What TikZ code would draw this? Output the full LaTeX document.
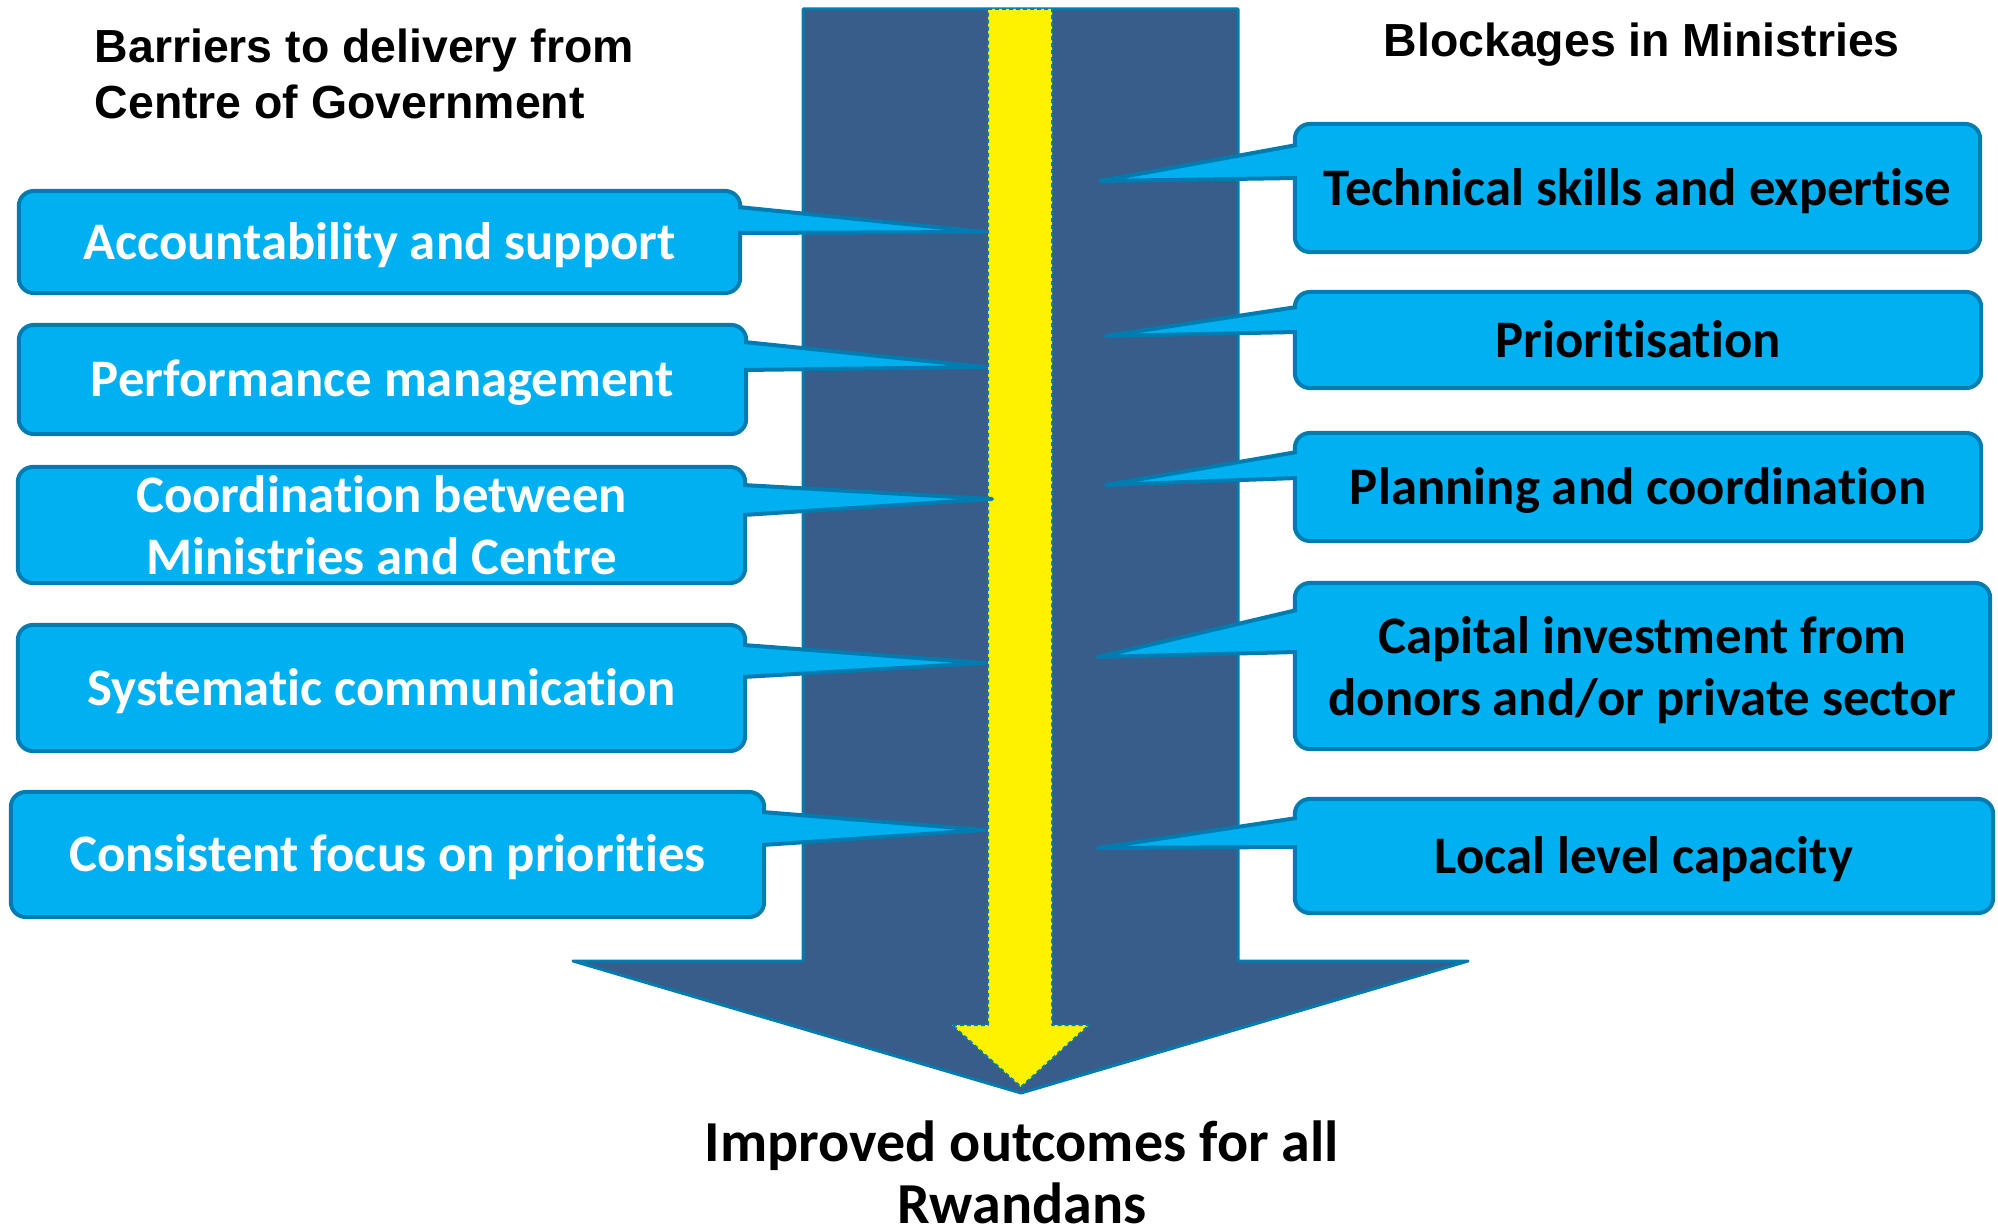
\documentclass[tikz,border=0pt]{standalone}
\usepackage{fontspec}
\setmainfont{Carlito}[Ligatures=CommonOff]
\newfontfamily\headfont{Liberation Sans}
\usepackage{tikz}
\usetikzlibrary{calc}
\definecolor{slate}{RGB}{56,93,138}
\definecolor{edge}{RGB}{0,124,176}
\definecolor{callcyan}{RGB}{0,176,240}

\begin{document}
\begin{tikzpicture}[x=0.01cm,y=-0.01cm,
  box/.style={rectangle,rounded corners=0.15cm,fill=callcyan,draw=edge,line width=0.04cm,inner sep=0pt,align=center,font=\fontsize{15}{17.8}\selectfont\bfseries},
  oneline/.style={text height=9.7pt,text depth=0pt},
  lbox/.style={box,text=white},
  rbox/.style={box,text=black},
  tail/.style={fill=callcyan,draw=edge,line width=0.04cm,line join=round},
  heading/.style={inner sep=0pt,align=left,font=\headfont\fontsize{13.2}{15.9}\selectfont\bfseries}]
\useasboundingbox (0,0) rectangle (1998,1231);

\draw[fill=slate,draw=edge,line width=0.03cm,line join=round] (803,9) -- (1238,9) -- (1238,961) -- (1468,961) -- (1021,1093) -- (573,961) -- (803,961) -- cycle;
\draw[fill=yellow,draw=edge,line width=0.02cm,line join=round,dash pattern=on 0.04cm off 0.03cm] (988,9) -- (1052,9) -- (1052,1025) -- (1089,1025) -- (1021,1087) -- (952,1025) -- (988,1025) -- cycle;

\node[heading,anchor=north west] (barriers) at (94,28) {Barriers to delivery from\\Centre of Government};
\node[heading,anchor=north west] (blockages) at (1383,22) {Blockages in Ministries};

\node[lbox,oneline,minimum width=7.21cm,minimum height=1.02cm] (a1) at (379.5,242) {Accountability and support};
\node[lbox,oneline,minimum width=7.27cm,minimum height=1.09cm] (a2) at (382.5,379.5) {Performance management};
\node[lbox,minimum width=7.27cm,minimum height=1.16cm] (a3) at (381.5,525) {Coordination between\\Ministries and Centre};
\node[lbox,oneline,minimum width=7.27cm,minimum height=1.26cm] (a4) at (381.5,688) {Systematic communication};
\node[lbox,oneline,minimum width=7.53cm,minimum height=1.25cm] (a5) at (387.5,854.5) {Consistent focus on priorities};

\node[rbox,oneline,minimum width=6.85cm,minimum height=1.28cm] (b1) at (1637.5,188) {Technical skills and expertise};
\node[rbox,oneline,minimum width=6.86cm,minimum height=0.96cm] (b2) at (1638,340) {Prioritisation};
\node[rbox,oneline,minimum width=6.86cm,minimum height=1.08cm] (b3) at (1638,487) {Planning and coordination};
\node[rbox,minimum width=6.95cm,minimum height=1.66cm] (b4) at (1642.5,666) {Capital investment from\\\smash{donors and/or private sector}};
\node[rbox,oneline,minimum width=6.98cm,minimum height=1.14cm] (b5) at (1644,856) {Local level capacity};

\coordinate (ta1) at (985,232);
\coordinate (ta2) at (985,367);
\coordinate (ta3) at (992,499);
\coordinate (ta4) at (985,663);
\coordinate (ta5) at (985,830);
\coordinate (tb1) at (1100,181);
\coordinate (tb2) at (1106,336);
\coordinate (tb3) at (1106,485);
\coordinate (tb4) at (1098,657);
\coordinate (tb5) at (1098,848);

\draw[tail] ($(a1.east |- 0,207)+(-4,0)$) -- (ta1) -- ($(a1.east |- 0,233)+(-4,0)$);
\draw[tail] ($(a2.east |- 0,342)+(-4,0)$) -- (ta2) -- ($(a2.east |- 0,370)+(-4,0)$);
\draw[tail] ($(a3.east |- 0,485)+(-4,0)$) -- (ta3) -- ($(a3.east |- 0,515)+(-4,0)$);
\draw[tail] ($(a4.east |- 0,645)+(-4,0)$) -- (ta4) -- ($(a4.east |- 0,677)+(-4,0)$);
\draw[tail] ($(a5.east |- 0,812)+(-4,0)$) -- (ta5) -- ($(a5.east |- 0,845)+(-4,0)$);
\draw[tail] ($(b1.west |- 0,145)+(4,0)$) -- (tb1) -- ($(b1.west |- 0,178)+(4,0)$);
\draw[tail] ($(b2.west |- 0,307)+(4,0)$) -- (tb2) -- ($(b2.west |- 0,332)+(4,0)$);
\draw[tail] ($(b3.west |- 0,452)+(4,0)$) -- (tb3) -- ($(b3.west |- 0,478)+(4,0)$);
\draw[tail] ($(b4.west |- 0,610)+(4,0)$) -- (tb4) -- ($(b4.west |- 0,652)+(4,0)$);
\draw[tail] ($(b5.west |- 0,818)+(4,0)$) -- (tb5) -- ($(b5.west |- 0,847)+(4,0)$);

\node[inner sep=0pt,align=center,anchor=north,font=\fontsize{16.5}{17.6}\selectfont\bfseries] (outcomes) at (1022,1120) {Improved outcomes for all\\Rwandans};
\end{tikzpicture}
\end{document}
